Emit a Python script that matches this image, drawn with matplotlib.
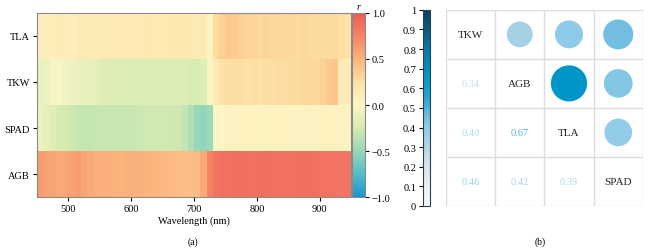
import numpy as np
import matplotlib as mpl
mpl.use('Agg')
import matplotlib.pyplot as plt
from matplotlib.colors import LinearSegmentedColormap
from matplotlib.patches import Circle

plt.rcParams['font.family'] = ['Liberation Serif', 'DejaVu Serif']
plt.rcParams['font.size'] = 7.5

# ---- panel (a): correlation r vs wavelength, 10 nm bins ----
wl_centers = np.arange(455, 950, 10)
traits = ['TLA', 'TKW', 'SPAD', 'AGB']

r_tla = [0.10, 0.08, 0.10, 0.12, 0.10, 0.08, 0.12, 0.13, 0.12, 0.12,
         0.13, 0.14, 0.14, 0.15, 0.14, 0.14, 0.15, 0.16, 0.15, 0.15,
         0.15, 0.16, 0.15, 0.16, 0.15, 0.15, 0.12, 0.05,
         0.28, 0.35, 0.38, 0.36, 0.33, 0.32, 0.32,
         0.30, 0.31, 0.30, 0.30, 0.29, 0.30, 0.28, 0.29, 0.28, 0.27,
         0.28, 0.27, 0.28, 0.25, 0.22]
r_tkw = [-0.12, -0.10, -0.05, -0.03, -0.06, -0.08, -0.10, -0.12, -0.13, -0.15,
         -0.18, -0.20, -0.20, -0.19, -0.20, -0.19, -0.20, -0.19, -0.20, -0.19,
         -0.20, -0.19, -0.20, -0.21, -0.22, -0.22, -0.18, 0.02,
         0.12, 0.22, 0.26, 0.25, 0.26, 0.24, 0.25,
         0.24, 0.26, 0.25, 0.27, 0.26, 0.28, 0.27, 0.29, 0.30, 0.30,
         0.33, 0.38, 0.40, 0.12, 0.10]
r_spad = [-0.10, -0.15, -0.18, -0.22, -0.25, -0.28, -0.30, -0.32, -0.32, -0.30,
          -0.30, -0.31, -0.30, -0.29, -0.30, -0.29, -0.28, -0.27, -0.26, -0.27,
          -0.26, -0.27, -0.28, -0.32, -0.40, -0.50, -0.52, -0.48,
          0.02, 0.00, 0.04, 0.05, 0.06, 0.06, 0.05,
          0.06, 0.05, 0.06, 0.05, 0.06, 0.05, 0.06, 0.05, 0.06, 0.05,
          0.06, 0.05, 0.06, 0.05, 0.04]
r_agb = [0.62, 0.60, 0.58, 0.55, 0.57, 0.60, 0.62, 0.58, 0.55, 0.53,
         0.52, 0.53, 0.51, 0.50, 0.52, 0.52, 0.51, 0.50, 0.49, 0.48,
         0.47, 0.46, 0.45, 0.45, 0.44, 0.46, 0.55, 0.75,
         0.84, 0.86, 0.86, 0.86, 0.87, 0.86, 0.86,
         0.86, 0.87, 0.86, 0.86, 0.86, 0.86, 0.86, 0.87, 0.86, 0.86,
         0.85, 0.85, 0.84, 0.84, 0.83]

# ---- panel (b): trait correlation matrix ----
names = ['TKW', 'AGB', 'TLA', 'SPAD']
corr = np.array([[1.00, 0.34, 0.40, 0.46],
                 [0.34, 1.00, 0.67, 0.42],
                 [0.40, 0.67, 1.00, 0.39],
                 [0.46, 0.42, 0.39, 1.00]])

cmap_r = LinearSegmentedColormap.from_list('r', [
    (0.0, '#1a93d0'), (0.125, '#56bcc8'), (0.25, '#98d8b8'), (0.375, '#d4eab0'),
    (0.5, '#fdf6c8'), (0.625, '#fde0a4'), (0.75, '#fbb47c'), (0.875, '#f58466'),
    (1.0, '#ef5a5a')])
cmap_b = LinearSegmentedColormap.from_list('b', [
    (0.0, '#f7f9fb'), (0.2, '#dde6ec'), (0.3, '#b5d5e6'), (0.4, '#8ecbe8'),
    (0.46, '#70bee0'), (0.55, '#2aa4d2'), (0.67, '#0096c8'), (0.8, '#0a78a8'),
    (1.0, '#0b3d5e')])

fig = plt.figure(figsize=(6.5, 2.53), dpi=100, facecolor='white')

ax0 = fig.add_axes([0.057, 0.217, 0.483, 0.728])
Z = np.array([r_tla, r_tkw, r_spad, r_agb])
edges = np.arange(450, 951, 10)
gci = ax0.pcolormesh(edges, np.arange(5), Z, cmap=cmap_r, vmin=-1, vmax=1)
ax0.set_ylim(4, 0)
ax0.set_xlim(450, 950)
ax0.set_yticks(np.arange(4) + 0.5)
ax0.set_yticklabels(traits)
ax0.set_xticks([500, 600, 700, 800, 900])
ax0.set_xlabel('Wavelength (nm)', labelpad=2)
for s in ax0.spines.values():
    s.set_color('#8a8a8a')
ax0.tick_params(length=3, width=0.8, pad=2)

cax0 = fig.add_axes([0.5415, 0.217, 0.02, 0.728])
cb0 = fig.colorbar(gci, cax=cax0, orientation='vertical')
cb0.set_ticks([-1.0, -0.5, 0.0, 0.5, 1.0])
cb0.set_ticklabels(['\u22121.0', '\u22120.5', '0.0', '0.5', '1.0'])
cb0.outline.set_edgecolor('#8a8a8a')
cax0.tick_params(length=3, width=0.8, pad=2)
cax0.text(0.5, 1.01, 'r', transform=cax0.transAxes, ha='center', va='bottom',
          style='italic', fontsize=7)

cax1 = fig.add_axes([0.6508, 0.182, 0.0108, 0.775])
sm = mpl.cm.ScalarMappable(norm=mpl.colors.Normalize(0, 1), cmap=cmap_b)
cb1 = fig.colorbar(sm, cax=cax1, orientation='vertical')
cb1.set_ticks(np.arange(0, 1.01, 0.1))
cb1.set_ticklabels(['0'] + ['%.1f' % v for v in np.arange(0.1, 0.95, 0.1)] + ['1'])
cax1.yaxis.set_ticks_position('left')
cax1.tick_params(length=3, width=0.8, pad=2)
cb1.outline.set_edgecolor('#2f3f4f')
cb1.outline.set_linewidth(0.8)

ax1 = fig.add_axes([0.686, 0.182, 0.303, 0.775])
ax1.set_xlim(0, 4)
ax1.set_ylim(4, 0)
ax1.set_xticks([])
ax1.set_yticks([])
for s in ax1.spines.values():
    s.set_visible(False)
for k in range(5):
    ax1.axhline(k, color='#dcdcdc', lw=1)
    ax1.axvline(k, color='#dcdcdc', lw=1)
n = len(names)
for i in range(n):
    for j in range(n):
        v = corr[i, j]
        if i == j:
            ax1.text(j + 0.5, i + 0.5, names[i], ha='center', va='center',
                     fontsize=8, color='#222222')
        elif j > i:
            ax1.add_patch(Circle((j + 0.5, i + 0.5), 0.45 * np.sqrt(v),
                                 color=cmap_b(v), lw=0))
        else:
            c = np.array(cmap_b(v)[:3])
            c = c * 0.7 + 0.3
            ax1.text(j + 0.5, i + 0.5, '%.2f' % v, ha='center', va='center',
                     fontsize=7.5, color=c)

fig.text(0.297, 0.043, '(a)', ha='center', va='center', fontsize=7)
fig.text(0.831, 0.043, '(b)', ha='center', va='center', fontsize=7)

fig.savefig('out.png', dpi=100)
